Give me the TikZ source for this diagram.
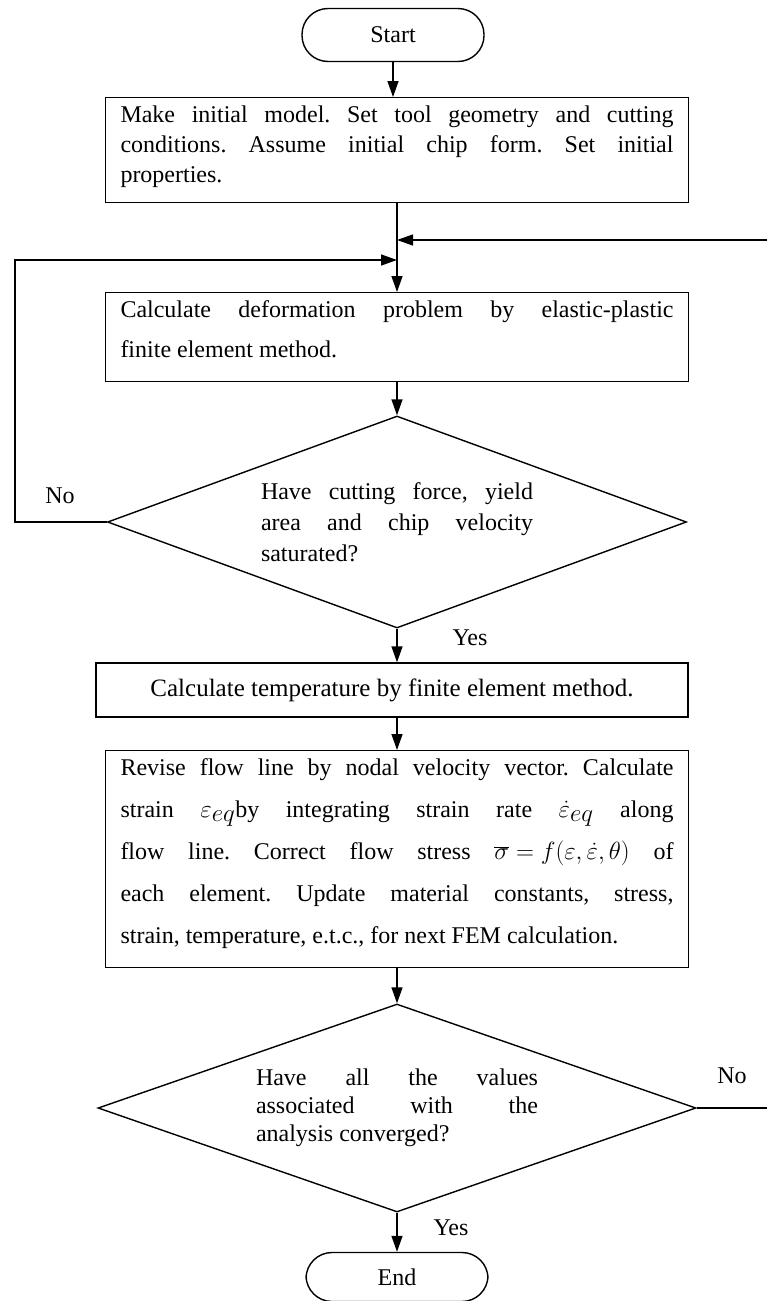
\documentclass[tikz,border=0pt]{standalone}
\usepackage{fontspec}
\setmainfont{Liberation Serif}
\usetikzlibrary{arrows.meta,shapes.geometric}
\newcommand{\eqmath}[1]{\mbox{\fontsize{26}{26}\selectfont$#1$}}

\begin{document}
\frenchspacing
\begin{tikzpicture}[x=1pt,y=-1pt,line width=1.4pt,
  every node/.style={font=\fontsize{24}{31}\selectfont},
  termbox/.style={draw,rounded corners=26pt,minimum width=182pt,minimum height=53pt},
  procbox/.style={draw,anchor=north,inner xsep=15pt,inner ysep=8pt,text width=553pt,align=justify},
  decbox/.style={draw,diamond,inner sep=0pt,align=justify},
  flow/.style={-{Triangle[length=16pt,width=11pt]}},
  lbl/.style={inner sep=0pt}]
\useasboundingbox (0,0) rectangle (767,1301);
% terminals and process boxes
\node[termbox] (start) at (393,35) {Start};
\node[procbox,text depth=72pt,font=\fontsize{24}{30}\selectfont] (init) at (397,97)
  {Make initial model. Set tool geometry and cutting\linebreak conditions. Assume initial chip form. Set initial\linebreak properties.};
\node[procbox,text depth=56pt,font=\fontsize{24}{40}\selectfont] (deform) at (397,292)
  {Calculate deformation problem by elastic-plastic\linebreak finite element method.};
\node[decbox,minimum width=579pt,minimum height=212pt,aspect=2.73,text width=272pt] (sat) at (397,522)
  {Have cutting force, yield\linebreak area and chip velocity\linebreak saturated?};
\node[draw,minimum width=592pt,minimum height=54pt,font=\fontsize{25}{31}\selectfont] (temp) at (392,690)
  {Calculate temperature by finite element method.};
\node[procbox,text depth=184pt,font=\fontsize{24}{42}\selectfont] (revise) at (397,750)
  {Revise flow line by nodal velocity vector. Calculate\linebreak
   strain \eqmath{\varepsilon_{\textstyle eq}}by integrating strain rate \eqmath{\dot{\varepsilon}_{\textstyle eq}} along\linebreak
   flow line. Correct flow stress \eqmath{\overline{\sigma}=f(\varepsilon,\dot{\varepsilon},\theta)} of\linebreak
   each element. Update material constants, stress,\linebreak
   strain, temperature, e.t.c., for next FEM calculation.};
\node[decbox,minimum width=598pt,minimum height=208pt,aspect=2.87,text width=282pt,font=\fontsize{24}{28}\selectfont] (conv) at (397,1108)
  {Have all the values\linebreak associated with the\linebreak analysis converged?};
\node[termbox,minimum height=49pt] (end) at (397,1277) {End};
% branch labels
\node[lbl] (no1) at (60,496) {No};
\node[lbl] (yes1) at (470,638) {Yes};
\node[lbl] (no2) at (732,1076) {No};
\node[lbl] (yes2) at (451,1228) {Yes};
% loop points
\coordinate (inR) at (397,240);
\coordinate (inL) at (397,260);
\coordinate (rimR) at (767,240);
\coordinate (rimC) at (767,1108);
% connectors
\draw[flow] (start) -- (start |- init.north);
\draw[flow] (init) -- (deform);
\draw[flow] (rimR) -- (inR);
\draw[flow] (sat.west) -- (15,522) |- (inL);
\draw[flow] (deform) -- (sat);
\draw[flow] (sat.south) -- (sat.south |- temp.north);
\draw[flow] (sat.south |- temp.south) -- (revise.north);
\draw[flow] (revise) -- (conv);
\draw (conv.east) -- (rimC);
\draw[flow] (conv) -- (end);
\end{tikzpicture}
\end{document}
